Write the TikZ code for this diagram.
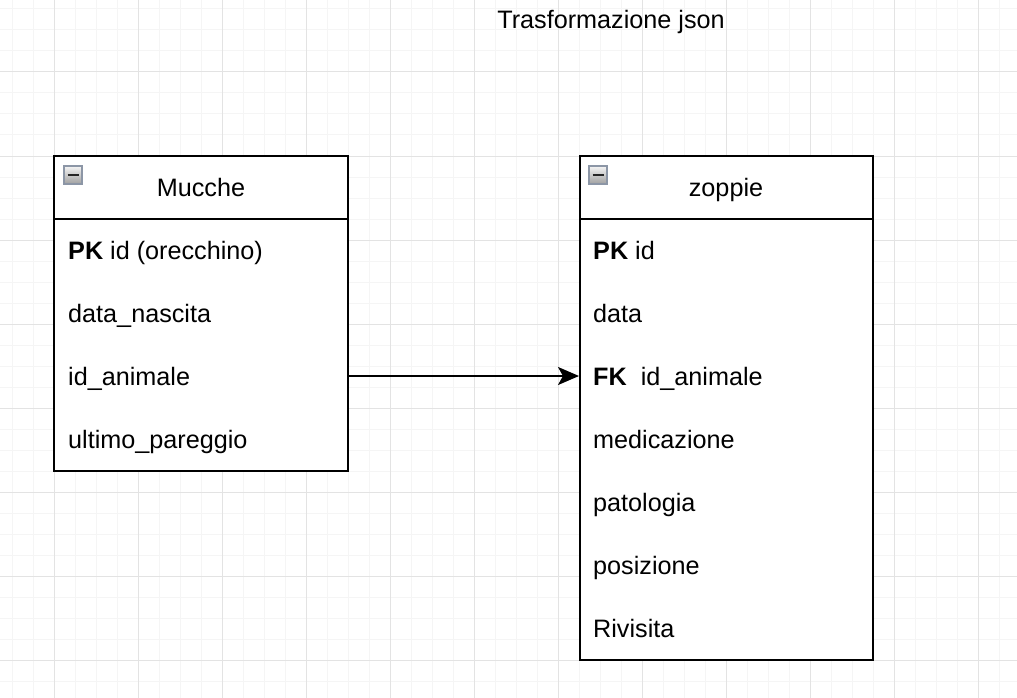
\documentclass[tikz,border=0pt]{standalone}
\usepackage{fontspec}
\setmainfont{Liberation Sans}
\usetikzlibrary{arrows.meta}
\definecolor{gridminor}{HTML}{F5F5F5}
\definecolor{gridmajor}{HTML}{E3E3E3}
\definecolor{iconborder}{HTML}{8C96A6}
\tikzset{
  txt/.style={font=\fontsize{25.2}{30}\selectfont, inner sep=0pt, text=black, anchor=base},
  rowtxt/.style={txt, anchor=base west},
  tablebox/.style={draw=black, line width=2pt, fill=white, inner sep=0pt},
  conn/.style={draw=black, line width=2pt, -{Stealth[length=21pt,width=18pt,inset=5pt]}},
  iconbox/.style={draw=iconborder, line width=1.5pt, top color=white!92!gray, bottom color=gray!75, minimum width=18pt, minimum height=18pt, inner sep=0pt},
}
\begin{document}
\begin{tikzpicture}[x=1pt,y=-1pt]
\useasboundingbox (0,0) rectangle (1017,698);
\fill[white] (0,0) rectangle (1017,698);
% grid
\foreach \gx in {12,33,...,1017} \draw[gridminor, line width=1pt] (\gx,0) -- (\gx,698);
\foreach \gy in {9,30,...,698} \draw[gridminor, line width=1pt] (0,\gy) -- (1017,\gy);
\foreach \gx in {54,138,...,1017} \draw[gridmajor, line width=1pt] (\gx,0) -- (\gx,698);
\foreach \gy in {72,156,...,698} \draw[gridmajor, line width=1pt] (0,\gy) -- (1017,\gy);
% title
\node[txt] (title) at (611,29) {Trasformazione json};
% Mucche table
\node[tablebox, minimum width=294pt, minimum height=315pt] (mbox) at (201,313) {};
\draw[black, line width=2pt] (54,219) -- (348,219);
\node[iconbox] (micon) at (73,175) {};
\draw[black!85, line width=2.5pt] (67.5,175) -- (78.5,175);
\node[txt] (mhead) at (201,196) {Mucche};
\node[rowtxt] (m1) at (68,259) {\textbf{PK} id (orecchino)};
\node[rowtxt] (m2) at (68,322) {data\_nascita};
\node[rowtxt] (m3) at (68,385) {id\_animale};
\node[rowtxt] (m4) at (68,448) {ultimo\_pareggio};
\coordinate (m3mid) at (68,376);
% zoppie table
\node[tablebox, minimum width=293pt, minimum height=504pt] (zbox) at (726.5,408) {};
\draw[black, line width=2pt] (580,219) -- (873,219);
\node[iconbox] (zicon) at (598,175) {};
\draw[black!85, line width=2.5pt] (592.5,175) -- (603.5,175);
\node[txt] (zhead) at (726,196) {zoppie};
\node[rowtxt] (z1) at (593,259) {\textbf{PK} id};
\node[rowtxt] (z2) at (593,322) {data};
\node[rowtxt] (z3) at (593,385) {\textbf{FK}\ \ id\_animale};
\node[rowtxt] (z4) at (593,448) {medicazione};
\node[rowtxt] (z5) at (593,511) {patologia};
\node[rowtxt] (z6) at (593,574) {posizione};
\node[rowtxt] (z7) at (593,637) {Rivisita};
% connector
\draw[conn] (mbox.east |- m3mid) -- (zbox.west |- m3mid);
\end{tikzpicture}
\end{document}
